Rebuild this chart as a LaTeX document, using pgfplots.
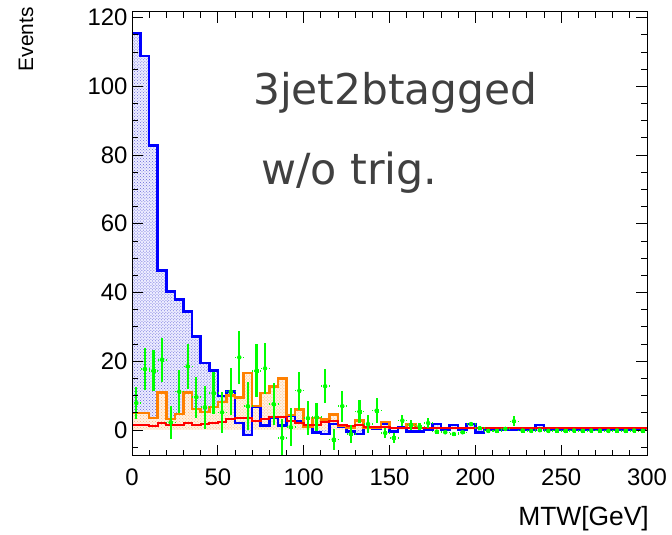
\documentclass[border=0pt]{standalone}
\usepackage{pgfplots}
\usepackage{pgfplotstable}
\pgfplotsset{compat=1.18}
\usepackage{fontspec}
\setmainfont{Liberation Sans}
\newfontfamily\dejavu{DejaVu Sans}
\usetikzlibrary{patterns}
\definecolor{rblue}{RGB}{0,0,255}
\definecolor{rred}{RGB}{255,0,0}
\definecolor{rgreen}{RGB}{0,255,0}
\definecolor{rorange}{RGB}{255,128,0}
\definecolor{txtgray}{RGB}{64,64,64}

% blue histogram (bin left edge, content)
\pgfplotstableread{
x y
0 0
0 115.4
5 108.8
10 82.7
15 46.4
20 40.3
25 38.0
30 34.5
35 27.2
40 19.5
45 17.3
50 9.9
55 11.1
60 2.0
65 -1.5
70 6.8
75 1.3
80 3.5
85 1.3
90 4.2
95 2.4
100 1.1
105 -0.7
110 -1.2
115 1.7
120 1.0
125 -0.5
130 -1.2
135 0.8
140 0.3
145 1.7
150 -0.5
155 0.8
160 -0.5
165 -0.5
170 0
175 1.7
180 0
185 1.4
190 0
195 1.7
200 -0.7
205 0
210 0
215 0
220 0
225 0
230 0
235 1.4
240 0
245 0
250 0
255 0
260 0
265 0
270 0
275 0
280 0
285 0
290 0
295 0
300 0
300 0
}\bluehist

\pgfplotstableread{
x y
0 0
0 4.9
5 4.9
10 3.5
15 10.9
20 3.2
25 4.6
30 10.9
35 6.1
40 5.2
45 6.6
50 8.1
55 10.0
60 9.4
65 16.6
70 7.0
75 10.7
80 12.7
85 15.0
90 4.3
95 5.9
100 0.8
105 3.5
110 3.0
115 4.4
120 1.2
125 0.6
130 2.7
135 0.6
140 0.6
145 2.3
150 0.6
155 0.6
160 1.6
165 0.5
170 0.5
175 0.5
180 0.5
185 0.5
190 0.5
195 0.5
200 0.5
205 0.5
210 0.5
215 0.5
220 0.5
225 0.5
230 0.5
235 0.5
240 0.5
245 0.5
250 0.5
255 0.5
260 0.5
265 0.5
270 0.5
275 0.5
280 0.5
285 0.5
290 0.5
295 0.5
300 0.5
300 0
}\orangehist

\pgfplotstableread{
x y
0 1.3
5 1.3
10 1.0
15 1.9
20 1.5
25 1.3
30 2.0
35 1.5
40 1.7
45 2.0
50 2.4
55 3.3
60 3.5
65 3.4
70 2.7
75 3.2
80 3.7
85 3.7
90 2.7
95 2.0
100 1.5
105 1.5
110 2.2
115 2.5
120 1.5
125 1.2
130 1.5
135 0.8
140 0.8
145 0.7
150 0.5
155 0.5
160 0.5
300 0.5
}\redhist

% data points (bin centre, value, error)
\pgfplotstableread{
x y e
2.5 7.8 4.6
7.5 17.7 6.2
12.5 17.2 6.0
17.5 20.4 6.4
22.5 2.2 4.8
27.5 11.1 6.2
32.5 18.5 6.5
37.5 9.5 6.0
42.5 6.6 6.2
47.5 10.7 6.2
52.5 5.1 6.0
57.5 11.1 6.8
62.5 21.1 7.7
67.5 6.9 7.0
72.5 17.2 7.7
77.5 17.9 7.5
82.5 7.5 6.0
87.5 -2.3 5.5
92.5 0.8 5.5
97.5 11.4 5.5
102.5 3.4 5.0
107.5 3.7 4.0
112.5 12.7 5.0
117.5 -2.8 3.0
122.5 6.9 4.5
127.5 -1.2 2.5
132.5 5.3 3.4
137.5 1.7 2.5
142.5 5.6 3.6
147.5 -0.9 1.5
152.5 -2.3 1.5
157.5 2.7 1.5
162.5 1.5 1.5
167.5 1.0 1.0
172.5 2.0 1.5
177.5 -0.5 0.5
182.5 -0.7 0.5
187.5 -1.2 0.5
192.5 -0.7 0.5
197.5 1.7 0.7
202.5 0.5 0.5
207.5 -0.3 0.3
212.5 -0.3 0.3
217.5 0.3 0.5
222.5 2.5 1.5
227.5 -0.2 0.3
232.5 -0.3 0.3
237.5 -0.1 0.3
242.5 -0.3 0.3
247.5 -0.2 0.3
252.5 -0.3 0.3
257.5 -0.2 0.3
262.5 -0.3 0.3
267.5 -0.2 0.3
272.5 -0.2 0.3
277.5 -0.3 0.3
282.5 -0.2 0.3
287.5 -0.3 0.3
292.5 -0.2 0.3
297.5 -0.3 0.3
}\datapts

\begin{document}
\begin{tikzpicture}
\useasboundingbox (0,0) rectangle (672bp,535bp);
\begin{axis}[
  at={(132bp,79bp)}, anchor=south west,
  scale only axis, width=515bp, height=444bp,
  xmin=0, xmax=300, ymin=-7.6, ymax=121.6,
  xtick={0,50,...,300}, minor xtick={10,20,...,290},
  ytick={0,20,...,120}, minor ytick={-5,0,...,120},
  tick align=inside, tick pos=both,
  xticklabel pos=bottom, yticklabel pos=left,
  major tick length=11bp, minor tick length=6bp,
  tick style={black, line width=0.7bp},
  axis line style={black, line width=1bp},
  ticklabel style={font=\fontsize{24}{24}\selectfont},
  /pgf/number format/assume math mode=true,
  xticklabel style={yshift=-9bp},
  yticklabel style={xshift=-1bp},
  axis on top,
  clip=true,
]
% blue fill and outline
\addplot[const plot mark left, draw=none, fill=blue!7,
  postaction={pattern=crosshatch dots, pattern color=blue!75!black!60}] table[x=x,y=y] {\bluehist};
% orange fill
\addplot[const plot mark left, draw=none, fill=rorange!10,
  postaction={pattern=crosshatch dots, pattern color=rorange!55}] table[x=x,y=y] {\orangehist};
\addplot[const plot mark left, draw=rblue, line width=2.6bp] table[x=x,y=y] {\bluehist};
\addplot[const plot mark left, draw=rorange, line width=2.6bp] table[x=x,y=y] {\orangehist};
\addplot[const plot mark left, draw=rred, line width=2bp] table[x=x,y=y] {\redhist};
% data: vertical error bars
\addplot[only marks, mark=square*, mark size=1.3bp, rgreen,
  error bars/.cd, y dir=both, y explicit,
  error bar style={line width=2.2bp, rgreen}, error mark=none]
  table[x=x, y=y, y error=e] {\datapts};
% data: horizontal error bars
\addplot[only marks, mark=none, rgreen,
  error bars/.cd, x dir=both, x fixed=2.5,
  error bar style={line width=1.5bp, rgreen, dash pattern=on 2bp off 2bp}, error mark=none]
  table[x=x, y=y] {\datapts};
\end{axis}
\node[anchor=base west, text=txtgray, font=\dejavu\fontsize{42.5}{42.5}\selectfont, inner sep=0pt] at (253bp,430bp) {3jet2btagged};
\node[anchor=base west, text=txtgray, font=\dejavu\fontsize{43}{43}\selectfont, inner sep=0pt] at (261bp,350bp) {w/o trig.};
\node[rotate=90, anchor=base east, inner sep=0pt, font=\fontsize{21}{21}\selectfont] at (33bp,528bp) {Events};
\node[anchor=base east, inner sep=0pt, font=\fontsize{26.5}{26.5}\selectfont] at (649bp,10bp) {MTW[GeV]};
\end{tikzpicture}
\end{document}
